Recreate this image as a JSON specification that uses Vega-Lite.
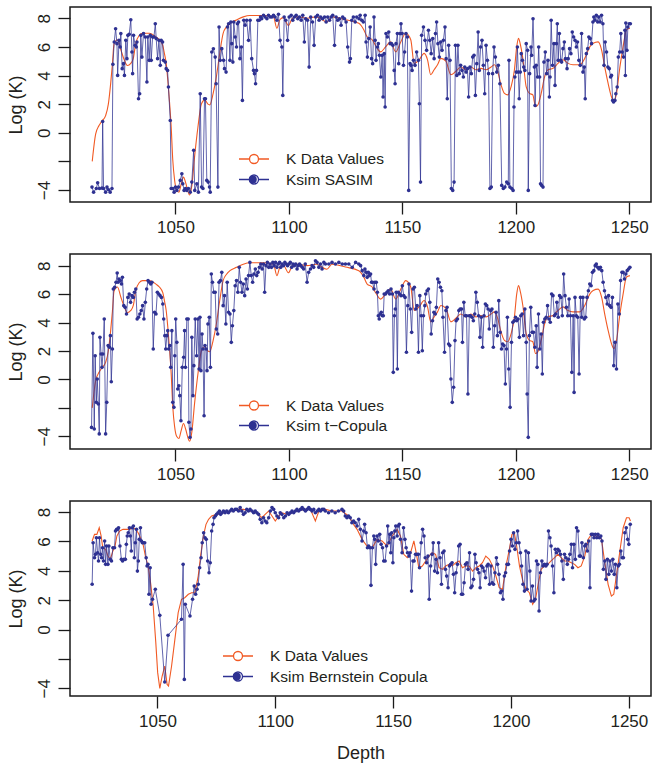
{
"$schema": "https://vega.github.io/schema/vega-lite/v6.json",
"padding": {"left": 6, "top": 6, "right": 1, "bottom": 2},
"background": "white",
"spacing": 52,
"bounds": "flush",
"resolve": {"scale": {"color": "independent", "fill": "independent", "x": "independent", "y": "independent"}, "legend": {"color": "independent", "fill": "independent"}},
"config": {
 "view": {"stroke": "#1a1a1a", "strokeWidth": 1.5},
 "axis": {"grid": false, "domain": false, "tickColor": "#1a1a1a", "tickWidth": 1.3, "tickSize": 12, "labelFont": "Liberation Sans", "labelFontSize": 17, "labelColor": "#231F20", "titleFont": "Liberation Sans", "titleFontSize": 18, "titleFontWeight": "normal", "titleColor": "#231F20", "labelOverlap": false},
 "axisX": {"labelPadding": 5, "labelFlush": false, "titlePadding": 15},
 "axisY": {"labelAngle": 270, "labelAlign": "center", "labelBaseline": "bottom", "labelPadding": 5, "titlePadding": 10},
 "legend": {"title": null, "orient": "none", "padding": 0, "symbolType": "M-1,0H-0.3A0.3,0.3 0 1,1 0.3,0A0.3,0.3 0 1,1 -0.3,0M0.3,0H1", "symbolSize": 900, "symbolStrokeWidth": 1.3, "symbolOpacity": 1, "clipHeight": 20, "rowPadding": 0.5, "labelOffset": 16, "labelFont": "Liberation Sans", "labelFontSize": 15.5, "labelColor": "#231F20", "labelLimit": 400}
},
"datasets": {
"kd": [
{"d":1013.3,"v":-2.0},{"d":1014.8,"v":-0.1},{"d":1016.3,"v":0.5},{"d":1017.5,"v":0.8},{"d":1019.2,"v":1.2},{"d":1020.4,"v":2.0},{"d":1021.4,"v":3.4},{"d":1022.2,"v":4.8},{"d":1022.9,"v":6.2},{"d":1024.4,"v":6.5},{"d":1025.9,"v":5.8},{"d":1027.4,"v":5.1},{"d":1028.8,"v":4.7},{"d":1030.3,"v":4.85},{"d":1031.4,"v":5.2},{"d":1032.5,"v":6.25},{"d":1034.0,"v":6.8},{"d":1035.5,"v":6.95},{"d":1038.5,"v":6.95},{"d":1041.4,"v":6.7},{"d":1042.9,"v":6.5},{"d":1044.4,"v":6.1},{"d":1045.1,"v":5.55},{"d":1045.9,"v":4.85},{"d":1046.6,"v":3.7},{"d":1047.3,"v":2.3},{"d":1048.1,"v":0.4},{"d":1048.8,"v":-1.9},{"d":1049.6,"v":-3.3},{"d":1050.5,"v":-4.0},{"d":1051.5,"v":-4.15},{"d":1052.5,"v":-3.6},{"d":1053.5,"v":-3.1},{"d":1054.5,"v":-3.5},{"d":1055.5,"v":-4.1},{"d":1056.2,"v":-4.35},{"d":1057.2,"v":-3.7},{"d":1058.4,"v":-1.7},{"d":1059.9,"v":0.4},{"d":1061.4,"v":2.0},{"d":1062.9,"v":2.3},{"d":1064.3,"v":2.0},{"d":1065.1,"v":1.95},{"d":1066.6,"v":2.75},{"d":1068.0,"v":3.9},{"d":1069.5,"v":5.55},{"d":1071.0,"v":6.95},{"d":1072.5,"v":7.4},{"d":1074.0,"v":7.65},{"d":1076.9,"v":7.88},{"d":1079.9,"v":8.1},{"d":1082.8,"v":8.2},{"d":1088.8,"v":8.2},{"d":1093.2,"v":8.1},{"d":1094.7,"v":7.3},{"d":1096.0,"v":7.9},{"d":1097.5,"v":8.05},{"d":1099.8,"v":7.5},{"d":1101.5,"v":8.0},{"d":1104,"v":8.1},{"d":1108,"v":8.0},{"d":1112,"v":8.1},{"d":1116.7,"v":7.75},{"d":1119.0,"v":8.1},{"d":1124.9,"v":7.9},{"d":1130.8,"v":7.65},{"d":1133.0,"v":7.2},{"d":1134.5,"v":6.7},{"d":1136.7,"v":6.5},{"d":1138.2,"v":6.1},{"d":1140.4,"v":5.65},{"d":1142.6,"v":6.0},{"d":1144.8,"v":6.35},{"d":1147.1,"v":5.65},{"d":1149.3,"v":6.35},{"d":1151.5,"v":6.95},{"d":1153.7,"v":6.5},{"d":1155.2,"v":4.85},{"d":1157.4,"v":5.1},{"d":1159.6,"v":5.55},{"d":1161.1,"v":5.1},{"d":1162.5,"v":4.05},{"d":1164.0,"v":4.4},{"d":1165.5,"v":4.75},{"d":1167.0,"v":5.2},{"d":1169.2,"v":5.0},{"d":1171.4,"v":4.05},{"d":1173.6,"v":4.3},{"d":1175.8,"v":4.6},{"d":1178.0,"v":4.4},{"d":1180.2,"v":4.6},{"d":1182.4,"v":4.4},{"d":1184.6,"v":4.5},{"d":1186.9,"v":4.4},{"d":1189.1,"v":4.6},{"d":1190.6,"v":4.75},{"d":1192.0,"v":4.3},{"d":1193.5,"v":3.35},{"d":1195.0,"v":2.75},{"d":1196.5,"v":2.65},{"d":1197.9,"v":3.2},{"d":1199.4,"v":4.4},{"d":1200.4,"v":6.0},{"d":1201.2,"v":6.6},{"d":1201.9,"v":6.25},{"d":1203.1,"v":5.2},{"d":1204.6,"v":3.2},{"d":1206.0,"v":2.75},{"d":1207.5,"v":2.65},{"d":1208.7,"v":1.82},{"d":1209.7,"v":1.94},{"d":1211.2,"v":2.75},{"d":1212.7,"v":3.9},{"d":1214.2,"v":4.4},{"d":1216.4,"v":4.5},{"d":1218.6,"v":4.85},{"d":1220.8,"v":5.1},{"d":1223.0,"v":4.85},{"d":1225.2,"v":4.75},{"d":1228.2,"v":4.75},{"d":1230.4,"v":5.2},{"d":1232.6,"v":6.0},{"d":1234.1,"v":6.25},{"d":1236.3,"v":6.35},{"d":1237.8,"v":5.8},{"d":1239.2,"v":4.6},{"d":1240.7,"v":3.45},{"d":1242.2,"v":2.5},{"d":1243.2,"v":2.17},{"d":1244.4,"v":2.75},{"d":1245.9,"v":4.6},{"d":1247.3,"v":6.0},{"d":1248.8,"v":7.2},{"d":1250.3,"v":7.3}
],
"kd3": [
{"d":1022.3,"v":6.03},{"d":1023.3,"v":6.48},{"d":1024.3,"v":6.48},{"d":1025.3,"v":6.93},{"d":1026.1,"v":6.37},{"d":1026.8,"v":5.57},{"d":1028.0,"v":5.46},{"d":1029.0,"v":5.0},{"d":1030.0,"v":4.78},{"d":1031.1,"v":5.35},{"d":1032.0,"v":5.69},{"d":1032.8,"v":6.37},{"d":1034.0,"v":6.71},{"d":1035.4,"v":6.82},{"d":1036.8,"v":6.82},{"d":1038.2,"v":6.82},{"d":1039.6,"v":6.93},{"d":1040.8,"v":6.82},{"d":1041.8,"v":6.59},{"d":1042.8,"v":6.25},{"d":1043.9,"v":5.8},{"d":1044.9,"v":5.0},{"d":1046.0,"v":4.33},{"d":1047.0,"v":3.3},{"d":1048.2,"v":1.6},{"d":1049.3,"v":-0.89},{"d":1050.1,"v":-2.93},{"d":1051.0,"v":-4.0},{"d":1052.0,"v":-3.16},{"d":1053.1,"v":-2.48},{"d":1054.1,"v":-3.73},{"d":1054.7,"v":-3.84},{"d":1056.0,"v":-2.48},{"d":1057.4,"v":-0.67},{"d":1058.8,"v":1.15},{"d":1060.2,"v":2.06},{"d":1061.6,"v":2.17},{"d":1063.1,"v":2.4},{"d":1064.5,"v":2.51},{"d":1065.9,"v":2.51},{"d":1067.3,"v":3.64},{"d":1068.3,"v":5.0},{"d":1069.5,"v":6.37},{"d":1070.6,"v":7.16},{"d":1071.7,"v":7.5},{"d":1073.0,"v":7.73},{"d":1075.1,"v":7.84},{"d":1078.0,"v":7.95},{"d":1080.8,"v":8.07},{"d":1083.7,"v":8.18},{"d":1086.5,"v":8.18},{"d":1089.3,"v":8.07},{"d":1092.2,"v":7.95},{"d":1094.3,"v":7.61},{"d":1095.7,"v":7.84},{"d":1097.2,"v":8.07},{"d":1098.6,"v":7.73},{"d":1100.0,"v":7.39},{"d":1101.4,"v":7.73},{"d":1102.8,"v":7.95},{"d":1105.0,"v":7.84},{"d":1107.1,"v":7.95},{"d":1109.2,"v":8.07},{"d":1112.1,"v":8.18},{"d":1114.9,"v":8.18},{"d":1117.0,"v":7.39},{"d":1118.5,"v":8.07},{"d":1121.3,"v":8.18},{"d":1124.0,"v":8.07},{"d":1128.3,"v":8.07},{"d":1131.1,"v":7.73},{"d":1133.2,"v":7.16},{"d":1134.7,"v":6.82},{"d":1136.8,"v":6.14},{"d":1138.9,"v":5.69},{"d":1141.1,"v":5.57},{"d":1143.2,"v":6.14},{"d":1145.3,"v":6.03},{"d":1147.4,"v":5.69},{"d":1149.6,"v":6.37},{"d":1151.7,"v":6.82},{"d":1153.1,"v":6.37},{"d":1154.5,"v":5.12},{"d":1156.0,"v":4.89},{"d":1157.4,"v":5.23},{"d":1158.8,"v":6.03},{"d":1159.5,"v":5.46},{"d":1160.9,"v":4.21},{"d":1162.4,"v":4.33},{"d":1163.8,"v":4.67},{"d":1165.2,"v":5.0},{"d":1166.6,"v":5.23},{"d":1168.0,"v":5.12},{"d":1169.5,"v":4.21},{"d":1170.9,"v":4.1},{"d":1172.3,"v":4.33},{"d":1173.7,"v":4.44},{"d":1175.1,"v":4.33},{"d":1176.6,"v":4.55},{"d":1178.0,"v":4.67},{"d":1179.4,"v":4.21},{"d":1180.8,"v":4.33},{"d":1182.2,"v":4.33},{"d":1183.7,"v":3.98},{"d":1185.1,"v":4.21},{"d":1186.5,"v":4.33},{"d":1187.9,"v":4.55},{"d":1189.3,"v":5.0},{"d":1190.8,"v":4.78},{"d":1192.2,"v":4.33},{"d":1193.6,"v":3.64},{"d":1195.0,"v":2.85},{"d":1196.4,"v":2.74},{"d":1197.9,"v":4.33},{"d":1199.3,"v":5.46},{"d":1200.4,"v":6.48},{"d":1201.4,"v":6.59},{"d":1202.4,"v":5.69},{"d":1203.6,"v":4.33},{"d":1205.0,"v":3.3},{"d":1206.4,"v":2.74},{"d":1207.8,"v":2.51},{"d":1209.2,"v":1.72},{"d":1210.4,"v":2.06},{"d":1211.5,"v":3.08},{"d":1212.8,"v":4.1},{"d":1214.2,"v":4.33},{"d":1215.6,"v":4.44},{"d":1217.0,"v":4.67},{"d":1218.5,"v":4.89},{"d":1219.9,"v":5.12},{"d":1221.3,"v":4.89},{"d":1222.7,"v":4.67},{"d":1224.1,"v":4.67},{"d":1225.6,"v":4.55},{"d":1227.0,"v":4.44},{"d":1228.4,"v":4.21},{"d":1229.8,"v":4.33},{"d":1231.3,"v":5.0},{"d":1232.7,"v":6.14},{"d":1234.1,"v":6.48},{"d":1235.5,"v":6.37},{"d":1236.9,"v":6.37},{"d":1238.4,"v":6.14},{"d":1239.8,"v":4.55},{"d":1241.2,"v":3.08},{"d":1242.6,"v":2.28},{"d":1243.6,"v":2.4},{"d":1244.7,"v":3.64},{"d":1246.1,"v":5.23},{"d":1247.6,"v":6.93},{"d":1249.0,"v":7.61},{"d":1250.1,"v":7.61},{"d":1250.7,"v":7.39}
],
"sasim": [
{"d":1013.2,"v":-3.8},{"d":1013.9,"v":-4.15},{"d":1015.1,"v":-3.9},{"d":1015.7,"v":-3.5},{"d":1016.5,"v":-3.9},{"d":1017.6,"v":-3.87},{"d":1017.9,"v":0.79},{"d":1018.3,"v":-3.9},{"d":1019.2,"v":-4.15},{"d":1019.8,"v":-3.8},{"d":1020.5,"v":-3.98},{"d":1021.2,"v":-4.15},{"d":1022.0,"v":-3.9},{"d":1022.4,"v":4.78},{"d":1023.0,"v":6.34},{"d":1023.6,"v":7.27},{"d":1024.2,"v":6.23},{"d":1024.5,"v":4.01},{"d":1025.1,"v":6.46},{"d":1025.6,"v":5.99},{"d":1025.9,"v":6.93},{"d":1026.5,"v":4.48},{"d":1027.1,"v":4.83},{"d":1027.5,"v":4.01},{"d":1028.1,"v":6.46},{"d":1028.6,"v":5.18},{"d":1029.0,"v":6.81},{"d":1029.6,"v":6.88},{"d":1030.3,"v":7.9},{"d":1030.8,"v":5.64},{"d":1031.1,"v":4.13},{"d":1031.5,"v":6.81},{"d":1032.2,"v":6.11},{"d":1032.7,"v":5.99},{"d":1033.0,"v":6.34},{"d":1033.7,"v":2.38},{"d":1034.2,"v":2.73},{"d":1034.7,"v":6.81},{"d":1035.2,"v":5.29},{"d":1035.9,"v":6.93},{"d":1036.7,"v":6.69},{"d":1037.4,"v":3.55},{"d":1037.8,"v":6.69},{"d":1038.4,"v":5.06},{"d":1038.9,"v":6.81},{"d":1039.3,"v":5.06},{"d":1039.9,"v":6.69},{"d":1040.5,"v":6.69},{"d":1041.1,"v":7.62},{"d":1041.5,"v":6.58},{"d":1042.1,"v":5.18},{"d":1042.7,"v":6.46},{"d":1043.3,"v":4.71},{"d":1043.7,"v":6.46},{"d":1044.3,"v":6.34},{"d":1044.7,"v":5.06},{"d":1045.5,"v":4.94},{"d":1045.9,"v":4.48},{"d":1046.5,"v":4.36},{"d":1046.9,"v":3.2},{"d":1047.7,"v":0.86},{"d":1048.1,"v":-3.9},{"d":1048.8,"v":-3.9},{"d":1049.4,"v":-4.15},{"d":1050.0,"v":-3.8},{"d":1050.6,"v":-4.03},{"d":1051.3,"v":-3.8},{"d":1052.1,"v":-3.33},{"d":1052.8,"v":-2.87},{"d":1053.2,"v":-3.57},{"d":1053.8,"v":-4.03},{"d":1054.4,"v":-3.9},{"d":1055.0,"v":-4.03},{"d":1055.7,"v":-3.9},{"d":1056.5,"v":-4.15},{"d":1057.2,"v":-3.45},{"d":1058.0,"v":-1.23},{"d":1058.5,"v":-4.03},{"d":1059.4,"v":-3.57},{"d":1060.1,"v":-4.15},{"d":1060.9,"v":2.73},{"d":1061.5,"v":-3.8},{"d":1062.1,"v":-3.9},{"d":1062.8,"v":2.38},{"d":1063.2,"v":2.38},{"d":1063.8,"v":-3.33},{"d":1064.4,"v":-3.45},{"d":1065.0,"v":-3.8},{"d":1065.3,"v":-4.15},{"d":1066.0,"v":5.64},{"d":1066.7,"v":5.87},{"d":1067.5,"v":5.29},{"d":1067.9,"v":3.43},{"d":1068.7,"v":-3.8},{"d":1069.2,"v":7.39},{"d":1069.7,"v":5.06},{"d":1070.4,"v":5.88},{"d":1071.2,"v":5.06},{"d":1071.6,"v":4.48},{"d":1072.3,"v":4.24},{"d":1072.9,"v":7.39},{"d":1073.4,"v":7.62},{"d":1074.0,"v":5.06},{"d":1074.4,"v":7.74},{"d":1074.8,"v":6.23},{"d":1075.3,"v":4.94},{"d":1075.7,"v":7.74},{"d":1076.3,"v":6.69},{"d":1076.9,"v":5.99},{"d":1077.3,"v":7.62},{"d":1077.8,"v":7.74},{"d":1078.4,"v":5.18},{"d":1079.0,"v":5.99},{"d":1079.5,"v":2.26},{"d":1080.1,"v":7.86},{"d":1080.7,"v":7.51},{"d":1081.4,"v":7.86},{"d":1082.2,"v":6.46},{"d":1082.9,"v":7.86},{"d":1083.6,"v":5.18},{"d":1084.4,"v":4.36},{"d":1084.8,"v":4.13},{"d":1085.3,"v":3.43},{"d":1085.7,"v":4.36},{"d":1086.3,"v":7.86},{"d":1086.9,"v":7.86},{"d":1087.5,"v":8.09},{"d":1088.0,"v":7.97},{"d":1088.8,"v":8.21},{"d":1089.5,"v":8.09},{"d":1090.3,"v":7.97},{"d":1091.0,"v":8.21},{"d":1091.7,"v":8.09},{"d":1092.5,"v":8.09},{"d":1093.2,"v":8.21},{"d":1093.9,"v":8.09},{"d":1094.7,"v":7.86},{"d":1095.4,"v":8.28},{"d":1096.1,"v":6.46},{"d":1096.9,"v":5.99},{"d":1097.3,"v":2.61},{"d":1097.9,"v":8.09},{"d":1098.6,"v":7.86},{"d":1099.4,"v":6.46},{"d":1100.1,"v":8.09},{"d":1101.0,"v":8.21},{"d":1101.7,"v":7.86},{"d":1102.4,"v":8.09},{"d":1103.2,"v":8.21},{"d":1103.9,"v":7.97},{"d":1104.6,"v":8.09},{"d":1105.4,"v":7.86},{"d":1106.1,"v":8.21},{"d":1106.8,"v":6.34},{"d":1107.4,"v":7.97},{"d":1108.2,"v":7.86},{"d":1108.9,"v":4.59},{"d":1109.6,"v":8.09},{"d":1110.4,"v":7.74},{"d":1111.1,"v":6.11},{"d":1111.8,"v":8.09},{"d":1112.6,"v":8.21},{"d":1113.3,"v":7.86},{"d":1114.0,"v":8.09},{"d":1114.8,"v":7.97},{"d":1115.7,"v":8.09},{"d":1116.4,"v":7.74},{"d":1117.1,"v":8.09},{"d":1117.9,"v":7.86},{"d":1118.6,"v":8.09},{"d":1119.3,"v":8.21},{"d":1120.1,"v":6.11},{"d":1120.8,"v":8.09},{"d":1121.5,"v":7.86},{"d":1122.3,"v":7.97},{"d":1123.0,"v":7.51},{"d":1123.7,"v":8.09},{"d":1124.5,"v":7.97},{"d":1125.2,"v":7.74},{"d":1125.9,"v":5.99},{"d":1126.7,"v":4.94},{"d":1127.1,"v":5.18},{"d":1127.7,"v":7.86},{"d":1128.4,"v":8.09},{"d":1129.2,"v":7.74},{"d":1129.9,"v":8.09},{"d":1130.9,"v":7.97},{"d":1131.4,"v":8.21},{"d":1132.1,"v":7.86},{"d":1132.8,"v":7.74},{"d":1133.6,"v":8.21},{"d":1134.0,"v":6.34},{"d":1134.6,"v":5.29},{"d":1135.2,"v":6.58},{"d":1135.8,"v":7.39},{"d":1136.4,"v":5.18},{"d":1136.9,"v":4.83},{"d":1137.5,"v":8.09},{"d":1138.0,"v":6.46},{"d":1138.4,"v":5.06},{"d":1139.0,"v":5.99},{"d":1139.4,"v":6.23},{"d":1139.9,"v":5.41},{"d":1140.5,"v":3.9},{"d":1141.1,"v":5.41},{"d":1141.5,"v":2.5},{"d":1142.0,"v":5.53},{"d":1142.4,"v":1.8},{"d":1142.8,"v":6.93},{"d":1143.4,"v":6.69},{"d":1144.0,"v":7.04},{"d":1144.6,"v":6.23},{"d":1145.2,"v":6.23},{"d":1145.8,"v":6.11},{"d":1146.4,"v":4.36},{"d":1146.8,"v":3.43},{"d":1147.2,"v":6.23},{"d":1147.8,"v":6.93},{"d":1148.4,"v":4.83},{"d":1149.0,"v":6.93},{"d":1149.4,"v":7.62},{"d":1149.9,"v":6.93},{"d":1150.5,"v":4.71},{"d":1151.0,"v":5.64},{"d":1151.6,"v":6.93},{"d":1152.2,"v":6.69},{"d":1152.8,"v":-4.03},{"d":1153.4,"v":4.83},{"d":1153.8,"v":4.71},{"d":1154.3,"v":4.36},{"d":1154.9,"v":5.06},{"d":1155.6,"v":4.71},{"d":1156.3,"v":5.64},{"d":1157.1,"v":5.06},{"d":1157.5,"v":2.03},{"d":1158.0,"v":-3.45},{"d":1158.5,"v":6.81},{"d":1159.3,"v":7.39},{"d":1160.0,"v":6.46},{"d":1160.7,"v":5.76},{"d":1161.5,"v":7.16},{"d":1162.1,"v":6.46},{"d":1162.7,"v":5.53},{"d":1163.4,"v":6.58},{"d":1164.0,"v":5.18},{"d":1164.6,"v":6.93},{"d":1165.1,"v":7.74},{"d":1165.7,"v":6.23},{"d":1166.3,"v":5.29},{"d":1166.9,"v":6.34},{"d":1167.5,"v":5.76},{"d":1168.1,"v":6.46},{"d":1168.8,"v":7.39},{"d":1169.3,"v":5.18},{"d":1169.8,"v":2.38},{"d":1170.4,"v":6.11},{"d":1171.0,"v":5.06},{"d":1171.6,"v":-3.9},{"d":1172.2,"v":-4.03},{"d":1172.8,"v":-3.45},{"d":1173.4,"v":6.11},{"d":1174.0,"v":4.01},{"d":1174.5,"v":6.11},{"d":1175.1,"v":4.13},{"d":1175.7,"v":4.71},{"d":1176.3,"v":4.36},{"d":1176.9,"v":3.9},{"d":1177.5,"v":4.59},{"d":1178.1,"v":4.24},{"d":1178.7,"v":4.48},{"d":1179.2,"v":2.5},{"d":1179.8,"v":4.59},{"d":1180.4,"v":4.13},{"d":1181.0,"v":5.29},{"d":1181.6,"v":5.41},{"d":1182.2,"v":2.61},{"d":1182.8,"v":4.83},{"d":1183.4,"v":7.04},{"d":1183.9,"v":4.36},{"d":1184.5,"v":5.99},{"d":1185.1,"v":6.46},{"d":1185.7,"v":4.71},{"d":1186.3,"v":2.73},{"d":1186.9,"v":6.11},{"d":1187.5,"v":5.06},{"d":1188.0,"v":4.13},{"d":1188.6,"v":-3.9},{"d":1189.2,"v":-3.8},{"d":1189.8,"v":4.13},{"d":1190.4,"v":5.99},{"d":1191.0,"v":5.29},{"d":1191.6,"v":4.24},{"d":1192.3,"v":4.71},{"d":1193.0,"v":3.43},{"d":1193.8,"v":-3.68},{"d":1194.5,"v":-3.9},{"d":1195.2,"v":-3.8},{"d":1196.0,"v":-3.45},{"d":1196.7,"v":-3.57},{"d":1197.0,"v":5.06},{"d":1197.4,"v":-3.8},{"d":1198.2,"v":-3.9},{"d":1198.8,"v":-4.03},{"d":1199.2,"v":1.8},{"d":1199.6,"v":3.9},{"d":1200.2,"v":4.24},{"d":1200.7,"v":5.99},{"d":1201.1,"v":4.24},{"d":1201.5,"v":2.38},{"d":1202.0,"v":4.24},{"d":1202.4,"v":5.53},{"d":1202.9,"v":5.06},{"d":1203.5,"v":4.59},{"d":1204.0,"v":4.36},{"d":1204.6,"v":6.23},{"d":1205.2,"v":5.76},{"d":1205.5,"v":-4.03},{"d":1206.1,"v":4.13},{"d":1206.7,"v":5.99},{"d":1207.0,"v":5.41},{"d":1207.6,"v":7.97},{"d":1208.2,"v":4.59},{"d":1208.5,"v":1.91},{"d":1209.0,"v":4.71},{"d":1209.6,"v":3.9},{"d":1210.1,"v":5.99},{"d":1210.5,"v":3.9},{"d":1210.9,"v":-3.57},{"d":1211.4,"v":-3.68},{"d":1212.0,"v":-3.8},{"d":1212.4,"v":4.94},{"d":1213.0,"v":5.64},{"d":1213.6,"v":4.13},{"d":1214.2,"v":5.06},{"d":1214.8,"v":2.5},{"d":1215.1,"v":3.9},{"d":1215.6,"v":7.86},{"d":1216.2,"v":4.71},{"d":1216.8,"v":6.23},{"d":1217.3,"v":3.31},{"d":1217.9,"v":6.23},{"d":1218.3,"v":7.62},{"d":1218.7,"v":5.06},{"d":1219.2,"v":6.93},{"d":1219.8,"v":5.06},{"d":1220.2,"v":4.94},{"d":1220.8,"v":5.88},{"d":1221.4,"v":6.34},{"d":1221.9,"v":5.18},{"d":1222.6,"v":4.48},{"d":1223.1,"v":5.18},{"d":1223.7,"v":5.88},{"d":1224.3,"v":5.53},{"d":1224.9,"v":7.04},{"d":1225.5,"v":6.69},{"d":1226.1,"v":6.46},{"d":1226.7,"v":5.99},{"d":1227.2,"v":6.34},{"d":1227.8,"v":5.06},{"d":1228.4,"v":4.71},{"d":1229.0,"v":6.93},{"d":1229.6,"v":4.24},{"d":1230.2,"v":4.59},{"d":1230.6,"v":2.38},{"d":1231.1,"v":5.53},{"d":1231.7,"v":5.88},{"d":1232.2,"v":6.69},{"d":1232.8,"v":6.58},{"d":1233.4,"v":6.23},{"d":1234.0,"v":7.74},{"d":1234.4,"v":8.09},{"d":1234.9,"v":7.86},{"d":1235.5,"v":8.21},{"d":1236.1,"v":7.74},{"d":1236.6,"v":8.09},{"d":1237.2,"v":7.74},{"d":1237.8,"v":8.21},{"d":1238.4,"v":7.62},{"d":1238.9,"v":4.71},{"d":1239.4,"v":6.34},{"d":1240.0,"v":5.64},{"d":1240.6,"v":4.59},{"d":1241.2,"v":4.48},{"d":1241.8,"v":3.9},{"d":1242.2,"v":4.01},{"d":1242.7,"v":2.26},{"d":1243.1,"v":2.15},{"d":1243.7,"v":2.26},{"d":1244.1,"v":2.73},{"d":1244.7,"v":3.2},{"d":1245.2,"v":5.29},{"d":1245.8,"v":5.64},{"d":1246.3,"v":6.93},{"d":1246.9,"v":5.64},{"d":1247.5,"v":5.29},{"d":1248.1,"v":7.16},{"d":1248.3,"v":4.0},{"d":1248.5,"v":7.67},{"d":1249.0,"v":5.76},{"d":1249.4,"v":7.39},{"d":1250.0,"v":7.62},{"d":1250.5,"v":7.62}
],
"tcop": [
{"d":1013.0,"v":-3.37},{"d":1013.6,"v":3.24},{"d":1014.2,"v":-3.48},{"d":1014.6,"v":1.67},{"d":1015.1,"v":-1.61},{"d":1015.5,"v":0.03},{"d":1016.0,"v":-1.73},{"d":1016.4,"v":-3.83},{"d":1016.7,"v":2.96},{"d":1017.2,"v":1.79},{"d":1017.6,"v":0.85},{"d":1018.0,"v":1.79},{"d":1018.6,"v":4.25},{"d":1019.2,"v":-3.83},{"d":1019.7,"v":-1.61},{"d":1020.3,"v":2.38},{"d":1020.9,"v":2.26},{"d":1021.3,"v":3.08},{"d":1021.7,"v":-0.16},{"d":1022.2,"v":2.14},{"d":1022.6,"v":6.36},{"d":1023.2,"v":6.48},{"d":1023.8,"v":6.83},{"d":1024.3,"v":7.48},{"d":1024.7,"v":6.83},{"d":1025.1,"v":7.06},{"d":1025.7,"v":6.95},{"d":1026.2,"v":6.71},{"d":1026.6,"v":7.18},{"d":1027.2,"v":5.19},{"d":1027.8,"v":5.07},{"d":1028.4,"v":4.6},{"d":1029.0,"v":5.77},{"d":1029.6,"v":6.01},{"d":1030.2,"v":5.42},{"d":1030.8,"v":5.89},{"d":1031.4,"v":5.77},{"d":1031.9,"v":6.13},{"d":1032.5,"v":6.36},{"d":1033.1,"v":4.25},{"d":1033.7,"v":4.37},{"d":1034.3,"v":4.6},{"d":1034.9,"v":4.84},{"d":1035.5,"v":5.19},{"d":1036.1,"v":4.25},{"d":1036.7,"v":5.42},{"d":1037.3,"v":6.36},{"d":1037.9,"v":6.95},{"d":1038.5,"v":6.83},{"d":1039.1,"v":6.71},{"d":1039.6,"v":6.83},{"d":1040.2,"v":2.14},{"d":1040.8,"v":4.72},{"d":1041.4,"v":4.6},{"d":1042.0,"v":6.13},{"d":1042.6,"v":6.01},{"d":1043.2,"v":5.89},{"d":1043.8,"v":5.77},{"d":1044.4,"v":5.3},{"d":1044.8,"v":4.25},{"d":1045.3,"v":3.08},{"d":1045.7,"v":2.14},{"d":1046.2,"v":3.08},{"d":1046.6,"v":3.43},{"d":1047.0,"v":2.14},{"d":1047.5,"v":2.38},{"d":1047.9,"v":0.85},{"d":1048.4,"v":3.43},{"d":1048.8,"v":-1.61},{"d":1049.3,"v":-1.96},{"d":1049.7,"v":1.67},{"d":1050.1,"v":4.25},{"d":1050.6,"v":2.61},{"d":1051.0,"v":-0.67},{"d":1051.5,"v":-0.44},{"d":1051.9,"v":-1.14},{"d":1052.4,"v":-2.9},{"d":1053.0,"v":0.85},{"d":1053.6,"v":1.56},{"d":1054.0,"v":3.43},{"d":1054.4,"v":0.85},{"d":1055.0,"v":4.25},{"d":1055.6,"v":4.25},{"d":1055.9,"v":-3.01},{"d":1056.4,"v":-4.07},{"d":1056.8,"v":-3.48},{"d":1057.2,"v":2.96},{"d":1057.7,"v":-1.14},{"d":1058.1,"v":0.97},{"d":1058.7,"v":4.25},{"d":1059.3,"v":1.67},{"d":1059.9,"v":4.25},{"d":1060.4,"v":0.73},{"d":1060.8,"v":4.37},{"d":1061.2,"v":0.62},{"d":1061.7,"v":3.2},{"d":1062.1,"v":2.14},{"d":1062.6,"v":-2.55},{"d":1063.0,"v":2.38},{"d":1063.5,"v":2.14},{"d":1063.9,"v":0.62},{"d":1064.3,"v":3.9},{"d":1064.9,"v":4.37},{"d":1065.4,"v":0.85},{"d":1065.8,"v":7.41},{"d":1066.3,"v":6.83},{"d":1066.9,"v":6.13},{"d":1067.5,"v":6.13},{"d":1068.0,"v":3.55},{"d":1068.6,"v":3.2},{"d":1069.2,"v":6.83},{"d":1069.8,"v":6.95},{"d":1070.4,"v":7.53},{"d":1071.0,"v":5.19},{"d":1071.6,"v":5.89},{"d":1072.2,"v":3.9},{"d":1072.8,"v":6.83},{"d":1073.4,"v":4.72},{"d":1074.0,"v":4.6},{"d":1074.6,"v":2.61},{"d":1075.1,"v":3.78},{"d":1075.7,"v":4.84},{"d":1076.3,"v":6.59},{"d":1076.9,"v":6.95},{"d":1077.5,"v":6.13},{"d":1078.1,"v":7.88},{"d":1078.7,"v":6.83},{"d":1079.3,"v":6.13},{"d":1079.9,"v":6.71},{"d":1080.5,"v":5.89},{"d":1081.1,"v":7.06},{"d":1081.7,"v":6.36},{"d":1082.2,"v":7.3},{"d":1082.8,"v":8.23},{"d":1083.4,"v":7.3},{"d":1084.0,"v":6.83},{"d":1084.6,"v":7.41},{"d":1085.2,"v":7.77},{"d":1085.8,"v":7.3},{"d":1086.4,"v":7.53},{"d":1087.0,"v":7.88},{"d":1087.6,"v":8.12},{"d":1088.2,"v":7.77},{"d":1088.8,"v":8.12},{"d":1089.3,"v":6.13},{"d":1089.9,"v":8.0},{"d":1090.5,"v":8.23},{"d":1091.1,"v":7.88},{"d":1091.7,"v":8.12},{"d":1092.3,"v":7.88},{"d":1092.9,"v":8.23},{"d":1093.5,"v":8.0},{"d":1094.1,"v":8.23},{"d":1094.7,"v":7.88},{"d":1095.3,"v":8.12},{"d":1095.9,"v":8.23},{"d":1096.4,"v":7.88},{"d":1097.0,"v":8.12},{"d":1097.6,"v":8.0},{"d":1098.2,"v":8.23},{"d":1098.8,"v":8.12},{"d":1099.4,"v":8.0},{"d":1100.0,"v":8.12},{"d":1100.6,"v":8.23},{"d":1101.2,"v":7.88},{"d":1101.8,"v":8.12},{"d":1102.4,"v":8.0},{"d":1103.0,"v":8.12},{"d":1103.6,"v":7.77},{"d":1104.1,"v":8.0},{"d":1104.7,"v":8.12},{"d":1105.3,"v":8.0},{"d":1105.9,"v":7.88},{"d":1106.5,"v":7.77},{"d":1107.2,"v":8.12},{"d":1108.0,"v":6.83},{"d":1108.7,"v":7.53},{"d":1109.5,"v":7.77},{"d":1110.2,"v":8.0},{"d":1110.9,"v":7.88},{"d":1111.7,"v":8.35},{"d":1112.4,"v":8.23},{"d":1113.2,"v":7.88},{"d":1113.9,"v":8.12},{"d":1114.6,"v":7.77},{"d":1115.4,"v":8.23},{"d":1116.1,"v":8.12},{"d":1117.6,"v":8.12},{"d":1119.0,"v":8.23},{"d":1120.5,"v":8.12},{"d":1122.0,"v":8.23},{"d":1123.5,"v":8.12},{"d":1124.9,"v":8.12},{"d":1126.4,"v":8.12},{"d":1127.9,"v":7.88},{"d":1129.4,"v":8.23},{"d":1130.8,"v":8.12},{"d":1131.6,"v":8.0},{"d":1132.3,"v":7.65},{"d":1133.0,"v":7.3},{"d":1133.5,"v":7.77},{"d":1134.1,"v":7.53},{"d":1134.5,"v":7.18},{"d":1135.0,"v":7.53},{"d":1135.5,"v":7.3},{"d":1136.0,"v":7.41},{"d":1136.4,"v":6.83},{"d":1136.9,"v":6.83},{"d":1137.5,"v":6.36},{"d":1137.9,"v":6.83},{"d":1138.5,"v":6.83},{"d":1139.0,"v":6.13},{"d":1139.4,"v":4.48},{"d":1139.8,"v":4.25},{"d":1140.3,"v":4.6},{"d":1140.7,"v":4.72},{"d":1141.2,"v":4.48},{"d":1141.6,"v":4.48},{"d":1142.0,"v":6.01},{"d":1142.6,"v":6.01},{"d":1143.2,"v":6.13},{"d":1143.8,"v":6.24},{"d":1144.4,"v":6.01},{"d":1145.0,"v":6.36},{"d":1145.6,"v":6.01},{"d":1146.0,"v":0.5},{"d":1146.5,"v":4.48},{"d":1146.9,"v":4.95},{"d":1147.3,"v":6.13},{"d":1147.8,"v":0.73},{"d":1148.2,"v":6.13},{"d":1148.8,"v":6.01},{"d":1149.4,"v":5.89},{"d":1150.0,"v":6.59},{"d":1150.6,"v":5.89},{"d":1151.2,"v":5.77},{"d":1151.8,"v":1.91},{"d":1152.4,"v":5.19},{"d":1152.9,"v":6.71},{"d":1153.5,"v":4.95},{"d":1154.1,"v":3.31},{"d":1154.7,"v":6.36},{"d":1155.3,"v":6.48},{"d":1155.9,"v":4.95},{"d":1156.5,"v":5.19},{"d":1157.1,"v":1.91},{"d":1157.7,"v":5.89},{"d":1158.3,"v":4.48},{"d":1158.8,"v":2.02},{"d":1159.3,"v":4.48},{"d":1159.9,"v":5.19},{"d":1160.3,"v":6.01},{"d":1160.9,"v":6.24},{"d":1161.5,"v":6.36},{"d":1162.1,"v":5.42},{"d":1162.7,"v":3.2},{"d":1163.3,"v":4.13},{"d":1163.9,"v":4.72},{"d":1164.5,"v":4.6},{"d":1165.0,"v":5.07},{"d":1165.6,"v":7.06},{"d":1166.2,"v":6.83},{"d":1166.8,"v":6.48},{"d":1167.4,"v":6.24},{"d":1167.9,"v":4.37},{"d":1168.6,"v":1.91},{"d":1169.2,"v":4.84},{"d":1169.7,"v":5.07},{"d":1170.4,"v":2.49},{"d":1170.9,"v":2.38},{"d":1171.4,"v":0.03},{"d":1172.0,"v":-1.61},{"d":1172.6,"v":-0.55},{"d":1173.2,"v":2.73},{"d":1173.7,"v":4.13},{"d":1174.3,"v":4.25},{"d":1174.9,"v":4.84},{"d":1175.5,"v":4.95},{"d":1176.1,"v":4.95},{"d":1176.5,"v":2.61},{"d":1177.1,"v":5.42},{"d":1177.7,"v":4.48},{"d":1178.3,"v":4.48},{"d":1178.9,"v":-1.02},{"d":1179.5,"v":4.48},{"d":1180.1,"v":4.48},{"d":1180.7,"v":4.37},{"d":1181.3,"v":4.13},{"d":1181.9,"v":4.6},{"d":1182.4,"v":6.13},{"d":1183.0,"v":5.42},{"d":1183.6,"v":4.48},{"d":1184.2,"v":2.96},{"d":1184.8,"v":4.37},{"d":1185.4,"v":2.26},{"d":1186.0,"v":4.48},{"d":1186.6,"v":5.3},{"d":1187.2,"v":5.19},{"d":1187.8,"v":4.95},{"d":1188.3,"v":3.55},{"d":1188.9,"v":4.84},{"d":1189.5,"v":4.95},{"d":1190.1,"v":2.26},{"d":1190.7,"v":3.78},{"d":1191.3,"v":4.72},{"d":1191.9,"v":3.08},{"d":1192.5,"v":5.54},{"d":1193.1,"v":3.31},{"d":1193.7,"v":2.14},{"d":1194.2,"v":2.49},{"d":1194.8,"v":2.38},{"d":1195.4,"v":-0.32},{"d":1195.9,"v":2.14},{"d":1196.3,"v":4.37},{"d":1196.9,"v":0.73},{"d":1197.5,"v":-1.96},{"d":1198.1,"v":2.61},{"d":1198.7,"v":4.02},{"d":1199.3,"v":4.13},{"d":1199.9,"v":4.37},{"d":1200.4,"v":4.13},{"d":1201.0,"v":4.25},{"d":1201.6,"v":2.96},{"d":1202.2,"v":4.48},{"d":1202.8,"v":4.6},{"d":1203.4,"v":3.08},{"d":1204.0,"v":4.95},{"d":1204.6,"v":2.61},{"d":1205.0,"v":-1.02},{"d":1205.5,"v":-4.07},{"d":1206.0,"v":3.08},{"d":1206.6,"v":5.07},{"d":1207.2,"v":3.31},{"d":1207.8,"v":3.31},{"d":1208.4,"v":2.26},{"d":1209.0,"v":3.78},{"d":1209.4,"v":0.85},{"d":1210.0,"v":4.6},{"d":1210.6,"v":2.14},{"d":1211.2,"v":3.2},{"d":1211.7,"v":0.38},{"d":1212.2,"v":4.02},{"d":1212.8,"v":4.25},{"d":1213.4,"v":4.37},{"d":1214.0,"v":5.19},{"d":1214.6,"v":4.25},{"d":1215.2,"v":4.02},{"d":1215.8,"v":6.01},{"d":1216.4,"v":5.89},{"d":1217.0,"v":4.48},{"d":1217.6,"v":4.6},{"d":1218.1,"v":5.42},{"d":1218.7,"v":4.37},{"d":1219.3,"v":5.89},{"d":1219.9,"v":5.77},{"d":1220.5,"v":4.48},{"d":1221.1,"v":7.41},{"d":1221.7,"v":5.89},{"d":1222.3,"v":5.07},{"d":1222.9,"v":4.48},{"d":1223.5,"v":5.66},{"d":1224.1,"v":4.48},{"d":1224.7,"v":0.5},{"d":1225.3,"v":4.48},{"d":1225.7,"v":-0.91},{"d":1226.1,"v":5.77},{"d":1226.7,"v":4.48},{"d":1227.3,"v":4.37},{"d":1227.9,"v":0.38},{"d":1228.5,"v":5.77},{"d":1229.1,"v":4.37},{"d":1229.6,"v":5.77},{"d":1230.2,"v":4.25},{"d":1230.8,"v":4.37},{"d":1231.4,"v":5.77},{"d":1232.0,"v":6.24},{"d":1232.6,"v":6.71},{"d":1233.2,"v":6.59},{"d":1233.8,"v":7.53},{"d":1234.4,"v":7.65},{"d":1235.0,"v":8.0},{"d":1235.5,"v":8.12},{"d":1236.1,"v":7.88},{"d":1236.7,"v":7.77},{"d":1237.3,"v":7.88},{"d":1237.9,"v":7.65},{"d":1238.5,"v":6.83},{"d":1239.1,"v":6.24},{"d":1239.7,"v":5.77},{"d":1240.3,"v":5.3},{"d":1240.9,"v":5.89},{"d":1241.4,"v":5.19},{"d":1242.0,"v":5.07},{"d":1242.6,"v":5.77},{"d":1243.2,"v":0.97},{"d":1243.8,"v":2.61},{"d":1244.4,"v":0.73},{"d":1245.0,"v":5.3},{"d":1245.6,"v":4.6},{"d":1246.2,"v":6.95},{"d":1246.8,"v":7.53},{"d":1247.3,"v":7.53},{"d":1247.9,"v":7.06},{"d":1248.5,"v":7.41},{"d":1249.1,"v":7.65},{"d":1249.7,"v":7.77},{"d":1250.3,"v":7.88}
],
"bern": [
{"d":1022.3,"v":3.08},{"d":1022.7,"v":5.91},{"d":1023.3,"v":4.89},{"d":1023.7,"v":5.12},{"d":1024.1,"v":6.25},{"d":1024.6,"v":5.23},{"d":1025.0,"v":4.67},{"d":1025.4,"v":6.25},{"d":1025.9,"v":5.12},{"d":1026.3,"v":4.89},{"d":1026.7,"v":5.57},{"d":1027.1,"v":4.67},{"d":1027.6,"v":6.03},{"d":1028.0,"v":4.44},{"d":1028.4,"v":5.69},{"d":1029.0,"v":4.44},{"d":1029.4,"v":5.69},{"d":1030.0,"v":4.78},{"d":1030.5,"v":4.67},{"d":1031.1,"v":5.57},{"d":1031.8,"v":5.57},{"d":1032.2,"v":6.71},{"d":1032.7,"v":6.82},{"d":1033.1,"v":6.82},{"d":1033.5,"v":6.93},{"d":1034.1,"v":5.69},{"d":1034.7,"v":4.78},{"d":1035.2,"v":4.67},{"d":1035.8,"v":4.78},{"d":1036.4,"v":4.78},{"d":1036.8,"v":5.8},{"d":1037.2,"v":6.37},{"d":1037.6,"v":6.59},{"d":1038.1,"v":6.93},{"d":1038.5,"v":6.37},{"d":1038.9,"v":5.35},{"d":1039.3,"v":6.93},{"d":1039.8,"v":7.05},{"d":1040.2,"v":4.89},{"d":1040.6,"v":5.91},{"d":1041.1,"v":6.82},{"d":1041.5,"v":3.98},{"d":1041.9,"v":4.67},{"d":1042.3,"v":6.14},{"d":1042.8,"v":6.93},{"d":1043.2,"v":6.03},{"d":1043.6,"v":5.91},{"d":1044.0,"v":5.91},{"d":1044.6,"v":5.91},{"d":1045.2,"v":4.89},{"d":1045.6,"v":4.33},{"d":1046.0,"v":4.44},{"d":1046.4,"v":2.4},{"d":1046.9,"v":4.21},{"d":1047.3,"v":1.72},{"d":1047.9,"v":2.06},{"d":1049.1,"v":2.74},{"d":1051.0,"v":0.97},{"d":1053.1,"v":-3.57},{"d":1054.5,"v":-0.39},{"d":1060.2,"v":0.7},{"d":1060.9,"v":4.44},{"d":1061.4,"v":-3.39},{"d":1061.8,"v":1.72},{"d":1063.8,"v":0.92},{"d":1064.9,"v":2.06},{"d":1065.6,"v":2.96},{"d":1066.2,"v":2.4},{"d":1066.8,"v":2.74},{"d":1067.3,"v":3.08},{"d":1067.9,"v":4.21},{"d":1068.5,"v":4.89},{"d":1069.0,"v":5.91},{"d":1069.6,"v":6.59},{"d":1070.2,"v":6.25},{"d":1070.7,"v":6.14},{"d":1071.3,"v":4.67},{"d":1071.9,"v":3.87},{"d":1072.4,"v":4.55},{"d":1073.0,"v":6.71},{"d":1073.6,"v":7.16},{"d":1074.0,"v":7.61},{"d":1074.6,"v":7.73},{"d":1075.1,"v":7.84},{"d":1075.7,"v":7.95},{"d":1076.3,"v":8.07},{"d":1076.8,"v":7.84},{"d":1077.4,"v":7.95},{"d":1078.0,"v":8.07},{"d":1078.7,"v":7.95},{"d":1079.4,"v":8.07},{"d":1080.1,"v":7.95},{"d":1080.8,"v":8.07},{"d":1081.5,"v":8.18},{"d":1082.2,"v":8.07},{"d":1083.0,"v":8.18},{"d":1083.7,"v":8.18},{"d":1084.4,"v":8.07},{"d":1085.1,"v":8.3},{"d":1085.8,"v":8.07},{"d":1086.5,"v":7.84},{"d":1087.2,"v":7.95},{"d":1087.9,"v":8.18},{"d":1088.6,"v":8.07},{"d":1089.3,"v":8.18},{"d":1090.1,"v":8.07},{"d":1090.8,"v":7.95},{"d":1091.5,"v":8.07},{"d":1092.2,"v":7.95},{"d":1092.9,"v":7.84},{"d":1093.6,"v":7.5},{"d":1094.3,"v":7.27},{"d":1095.0,"v":7.61},{"d":1095.7,"v":7.39},{"d":1096.4,"v":7.27},{"d":1097.2,"v":7.61},{"d":1097.9,"v":8.07},{"d":1098.6,"v":8.3},{"d":1099.3,"v":8.18},{"d":1100.0,"v":7.95},{"d":1100.7,"v":7.73},{"d":1101.4,"v":7.61},{"d":1102.1,"v":7.95},{"d":1102.8,"v":7.84},{"d":1103.6,"v":7.61},{"d":1104.3,"v":7.73},{"d":1105.0,"v":7.95},{"d":1105.7,"v":7.84},{"d":1106.4,"v":7.95},{"d":1107.1,"v":8.07},{"d":1107.8,"v":7.95},{"d":1108.5,"v":8.07},{"d":1109.2,"v":8.18},{"d":1109.9,"v":8.07},{"d":1110.7,"v":8.18},{"d":1111.4,"v":8.3},{"d":1112.1,"v":8.18},{"d":1112.8,"v":8.07},{"d":1113.5,"v":8.18},{"d":1114.2,"v":8.3},{"d":1114.9,"v":8.18},{"d":1115.6,"v":8.07},{"d":1116.3,"v":8.18},{"d":1117.0,"v":7.95},{"d":1117.8,"v":8.07},{"d":1118.5,"v":8.18},{"d":1119.2,"v":8.07},{"d":1119.9,"v":8.18},{"d":1120.6,"v":8.18},{"d":1121.2,"v":8.07},{"d":1122.6,"v":7.95},{"d":1124.0,"v":8.07},{"d":1125.4,"v":7.95},{"d":1126.8,"v":8.07},{"d":1128.3,"v":8.18},{"d":1129.0,"v":8.07},{"d":1129.7,"v":7.73},{"d":1130.4,"v":7.61},{"d":1131.1,"v":7.73},{"d":1131.8,"v":7.61},{"d":1132.5,"v":7.27},{"d":1133.2,"v":7.39},{"d":1133.9,"v":7.27},{"d":1134.7,"v":7.05},{"d":1135.4,"v":7.5},{"d":1136.1,"v":6.82},{"d":1136.8,"v":6.03},{"d":1137.5,"v":6.71},{"d":1137.9,"v":7.16},{"d":1138.5,"v":6.59},{"d":1139.1,"v":5.57},{"d":1139.6,"v":5.69},{"d":1140.2,"v":5.57},{"d":1140.6,"v":3.01},{"d":1141.2,"v":5.57},{"d":1141.8,"v":6.37},{"d":1142.2,"v":6.14},{"d":1142.6,"v":4.44},{"d":1143.2,"v":6.37},{"d":1143.7,"v":6.03},{"d":1144.3,"v":6.48},{"d":1144.9,"v":5.8},{"d":1145.5,"v":5.57},{"d":1146.0,"v":4.67},{"d":1146.6,"v":4.67},{"d":1147.2,"v":5.69},{"d":1147.7,"v":7.05},{"d":1148.2,"v":5.91},{"d":1148.6,"v":6.48},{"d":1149.0,"v":5.23},{"d":1149.4,"v":6.59},{"d":1149.9,"v":4.55},{"d":1150.3,"v":6.25},{"d":1150.7,"v":6.71},{"d":1151.1,"v":7.05},{"d":1151.7,"v":6.37},{"d":1152.1,"v":7.05},{"d":1152.6,"v":7.16},{"d":1153.1,"v":6.14},{"d":1153.8,"v":5.23},{"d":1154.4,"v":6.93},{"d":1155.0,"v":6.14},{"d":1155.5,"v":5.57},{"d":1156.1,"v":5.23},{"d":1156.7,"v":5.0},{"d":1157.2,"v":5.23},{"d":1157.8,"v":2.62},{"d":1158.4,"v":4.67},{"d":1158.9,"v":4.67},{"d":1159.5,"v":5.12},{"d":1160.1,"v":5.12},{"d":1160.7,"v":5.12},{"d":1161.2,"v":4.21},{"d":1161.9,"v":5.91},{"d":1162.5,"v":6.82},{"d":1163.1,"v":6.37},{"d":1163.6,"v":4.89},{"d":1164.2,"v":4.55},{"d":1164.8,"v":5.0},{"d":1165.3,"v":2.06},{"d":1165.9,"v":4.33},{"d":1166.5,"v":5.12},{"d":1167.0,"v":5.91},{"d":1167.6,"v":3.98},{"d":1168.2,"v":4.78},{"d":1168.8,"v":3.87},{"d":1169.3,"v":5.91},{"d":1169.9,"v":4.89},{"d":1170.5,"v":3.08},{"d":1171.0,"v":5.23},{"d":1171.6,"v":5.35},{"d":1172.2,"v":4.1},{"d":1172.7,"v":3.64},{"d":1173.3,"v":2.85},{"d":1173.9,"v":4.33},{"d":1174.4,"v":4.44},{"d":1175.0,"v":4.55},{"d":1175.6,"v":3.76},{"d":1176.1,"v":2.51},{"d":1176.7,"v":3.87},{"d":1177.3,"v":4.44},{"d":1177.8,"v":5.69},{"d":1178.4,"v":5.8},{"d":1179.0,"v":2.4},{"d":1179.5,"v":2.4},{"d":1180.1,"v":3.19},{"d":1180.7,"v":4.44},{"d":1181.3,"v":4.55},{"d":1181.8,"v":4.1},{"d":1182.4,"v":5.23},{"d":1183.0,"v":2.85},{"d":1183.5,"v":2.96},{"d":1184.1,"v":3.42},{"d":1184.7,"v":5.12},{"d":1185.2,"v":4.55},{"d":1185.8,"v":4.1},{"d":1186.4,"v":3.87},{"d":1186.9,"v":2.85},{"d":1187.5,"v":4.33},{"d":1188.1,"v":4.21},{"d":1188.6,"v":3.98},{"d":1189.2,"v":3.53},{"d":1189.8,"v":4.33},{"d":1190.3,"v":4.44},{"d":1190.9,"v":3.08},{"d":1191.5,"v":4.33},{"d":1192.0,"v":3.19},{"d":1192.6,"v":3.08},{"d":1193.2,"v":3.87},{"d":1193.8,"v":4.89},{"d":1194.3,"v":4.44},{"d":1194.9,"v":3.76},{"d":1195.5,"v":2.51},{"d":1196.0,"v":2.62},{"d":1196.6,"v":2.06},{"d":1197.2,"v":3.64},{"d":1197.7,"v":3.87},{"d":1198.3,"v":4.44},{"d":1198.9,"v":4.44},{"d":1199.4,"v":5.35},{"d":1200.0,"v":6.14},{"d":1200.6,"v":5.69},{"d":1201.1,"v":6.59},{"d":1201.7,"v":5.46},{"d":1202.3,"v":5.91},{"d":1202.8,"v":6.71},{"d":1203.4,"v":5.91},{"d":1204.0,"v":5.23},{"d":1204.5,"v":4.33},{"d":1205.1,"v":3.08},{"d":1205.7,"v":2.62},{"d":1206.3,"v":5.35},{"d":1206.8,"v":2.74},{"d":1207.4,"v":5.23},{"d":1208.0,"v":3.98},{"d":1208.5,"v":1.94},{"d":1209.1,"v":2.96},{"d":1209.7,"v":1.94},{"d":1210.2,"v":2.06},{"d":1210.8,"v":4.67},{"d":1211.4,"v":4.44},{"d":1211.9,"v":1.26},{"d":1212.5,"v":3.87},{"d":1213.1,"v":4.67},{"d":1213.6,"v":4.33},{"d":1214.2,"v":4.44},{"d":1214.8,"v":4.33},{"d":1215.3,"v":4.44},{"d":1215.9,"v":6.71},{"d":1216.5,"v":6.25},{"d":1217.0,"v":5.69},{"d":1217.6,"v":4.33},{"d":1218.2,"v":2.51},{"d":1218.8,"v":5.46},{"d":1219.3,"v":5.23},{"d":1219.9,"v":5.46},{"d":1220.5,"v":5.35},{"d":1221.0,"v":5.12},{"d":1221.6,"v":4.67},{"d":1222.2,"v":3.42},{"d":1222.7,"v":5.12},{"d":1223.3,"v":4.89},{"d":1223.9,"v":4.44},{"d":1224.4,"v":4.78},{"d":1225.0,"v":5.12},{"d":1225.6,"v":5.8},{"d":1226.1,"v":4.21},{"d":1226.7,"v":5.8},{"d":1227.3,"v":4.78},{"d":1227.8,"v":6.93},{"d":1228.4,"v":6.71},{"d":1229.0,"v":5.0},{"d":1229.5,"v":5.0},{"d":1230.1,"v":5.91},{"d":1230.7,"v":4.89},{"d":1231.3,"v":5.69},{"d":1231.8,"v":5.8},{"d":1232.4,"v":5.35},{"d":1233.0,"v":6.03},{"d":1233.5,"v":2.85},{"d":1234.1,"v":6.48},{"d":1234.7,"v":6.48},{"d":1235.2,"v":6.25},{"d":1235.8,"v":6.48},{"d":1236.4,"v":6.25},{"d":1236.9,"v":6.48},{"d":1237.5,"v":6.25},{"d":1238.1,"v":6.37},{"d":1238.6,"v":6.03},{"d":1239.2,"v":4.1},{"d":1239.8,"v":4.67},{"d":1240.3,"v":3.42},{"d":1240.9,"v":4.78},{"d":1241.5,"v":3.76},{"d":1242.0,"v":4.67},{"d":1242.6,"v":3.98},{"d":1243.2,"v":4.78},{"d":1243.8,"v":3.76},{"d":1244.3,"v":4.44},{"d":1244.9,"v":2.85},{"d":1245.5,"v":4.33},{"d":1246.0,"v":4.44},{"d":1246.6,"v":5.35},{"d":1247.2,"v":4.89},{"d":1247.7,"v":4.89},{"d":1248.3,"v":6.59},{"d":1248.9,"v":6.93},{"d":1249.5,"v":6.14},{"d":1250.0,"v":5.8},{"d":1250.6,"v":7.16}
]
},
"vconcat": [
{
 "width": 581, "height": 195,
 "encoding": {
  "x": {"field": "d", "type": "quantitative", "scale": {"domain": [1003.5, 1259.6], "nice": false, "zero": false}, "axis": {"values": [1050, 1100, 1150, 1200, 1250], "format": "d", "title": null}},
  "y": {"field": "v", "type": "quantitative", "scale": {"domain": [-4.84, 8.79], "nice": false, "zero": false}, "axis": {"values": [-4, -2, 0, 2, 4, 6, 8], "format": "d", "title": "Log (K)", "labelExpr": "datum.value == -2 ? '' : datum.label"}}
 },
 "layer": [
  {"data": {"name": "kd"}, "mark": {"type": "line", "strokeWidth": 1.1, "interpolate": "monotone"},
   "encoding": {"color": {"datum": "K Data Values", "type": "nominal", "scale": {"domain": ["K Data Values", "Ksim SASIM"], "range": ["#F15A24", "#2E3192"]},
    "legend": {"legendX": 168, "legendY": 142, "symbolFillColor": "white"}}}},
  {"data": {"name": "sasim"}, "mark": {"type": "line", "strokeWidth": 1, "opacity": 0.75}, "encoding": {"color": {"datum": "Ksim SASIM", "type": "nominal"}}},
  {"data": {"name": "sasim"}, "mark": {"type": "point", "filled": true, "size": 13, "opacity": 1},
   "encoding": {"fill": {"datum": "Ksim SASIM", "type": "nominal", "scale": {"domain": ["Ksim SASIM"], "range": ["#2E3192"]},
    "legend": {"legendX": 175, "legendY": 162.5, "symbolType": "circle", "symbolSize": 64, "symbolStrokeWidth": 0, "labelExpr": "''"}}}}
 ]
},
{
 "width": 581, "height": 195,
 "encoding": {
  "x": {"field": "d", "type": "quantitative", "scale": {"domain": [1003.5, 1259.6], "nice": false, "zero": false}, "axis": {"values": [1050, 1100, 1150, 1200, 1250], "format": "d", "title": null}},
  "y": {"field": "v", "type": "quantitative", "scale": {"domain": [-4.89, 8.82], "nice": false, "zero": false}, "axis": {"values": [-4, -2, 0, 2, 4, 6, 8], "format": "d", "title": "Log (K)", "labelExpr": "datum.value == -2 ? '' : datum.label"}}
 },
 "layer": [
  {"data": {"name": "kd"}, "mark": {"type": "line", "strokeWidth": 1.1, "interpolate": "monotone"},
   "encoding": {"color": {"datum": "K Data Values", "type": "nominal", "scale": {"domain": ["K Data Values", "Ksim t\u2212Copula"], "range": ["#F15A24", "#2E3192"]},
    "legend": {"legendX": 168, "legendY": 141.5, "rowPadding": 0, "symbolFillColor": "white"}}}},
  {"data": {"name": "tcop"}, "mark": {"type": "line", "strokeWidth": 1, "opacity": 0.75}, "encoding": {"color": {"datum": "Ksim t\u2212Copula", "type": "nominal"}}},
  {"data": {"name": "tcop"}, "mark": {"type": "point", "filled": true, "size": 13, "opacity": 1},
   "encoding": {"fill": {"datum": "Ksim t\u2212Copula", "type": "nominal", "scale": {"domain": ["Ksim t\u2212Copula"], "range": ["#2E3192"]},
    "legend": {"legendX": 175, "legendY": 161.5, "symbolType": "circle", "symbolSize": 64, "symbolStrokeWidth": 0, "labelExpr": "''"}}}}
 ]
},
{
 "width": 581, "height": 195,
 "encoding": {
  "x": {"field": "d", "type": "quantitative", "scale": {"domain": [1012.9, 1259.4], "nice": false, "zero": false}, "axis": {"values": [1050, 1100, 1150, 1200, 1250], "format": "d", "title": "Depth"}},
  "y": {"field": "v", "type": "quantitative", "scale": {"domain": [-4.52, 8.75], "nice": false, "zero": false}, "axis": {"values": [-4, -2, 0, 2, 4, 6, 8], "format": "d", "title": "Log (K)", "labelExpr": "datum.value == -2 ? '' : datum.label"}}
 },
 "layer": [
  {"data": {"name": "kd3"}, "mark": {"type": "line", "strokeWidth": 1.1},
   "encoding": {"color": {"datum": "K Data Values", "type": "nominal", "scale": {"domain": ["K Data Values", "Ksim Bernstein Copula"], "range": ["#F15A24", "#2E3192"]},
    "legend": {"legendX": 152, "legendY": 145, "symbolFillColor": "white"}}}},
  {"data": {"name": "bern"}, "mark": {"type": "line", "strokeWidth": 1, "opacity": 0.75}, "encoding": {"color": {"datum": "Ksim Bernstein Copula", "type": "nominal"}}},
  {"data": {"name": "bern"}, "mark": {"type": "point", "filled": true, "size": 13, "opacity": 1},
   "encoding": {"fill": {"datum": "Ksim Bernstein Copula", "type": "nominal", "scale": {"domain": ["Ksim Bernstein Copula"], "range": ["#2E3192"]},
    "legend": {"legendX": 159, "legendY": 165.5, "symbolType": "circle", "symbolSize": 64, "symbolStrokeWidth": 0, "labelExpr": "''"}}}}
 ]
}
]
}
